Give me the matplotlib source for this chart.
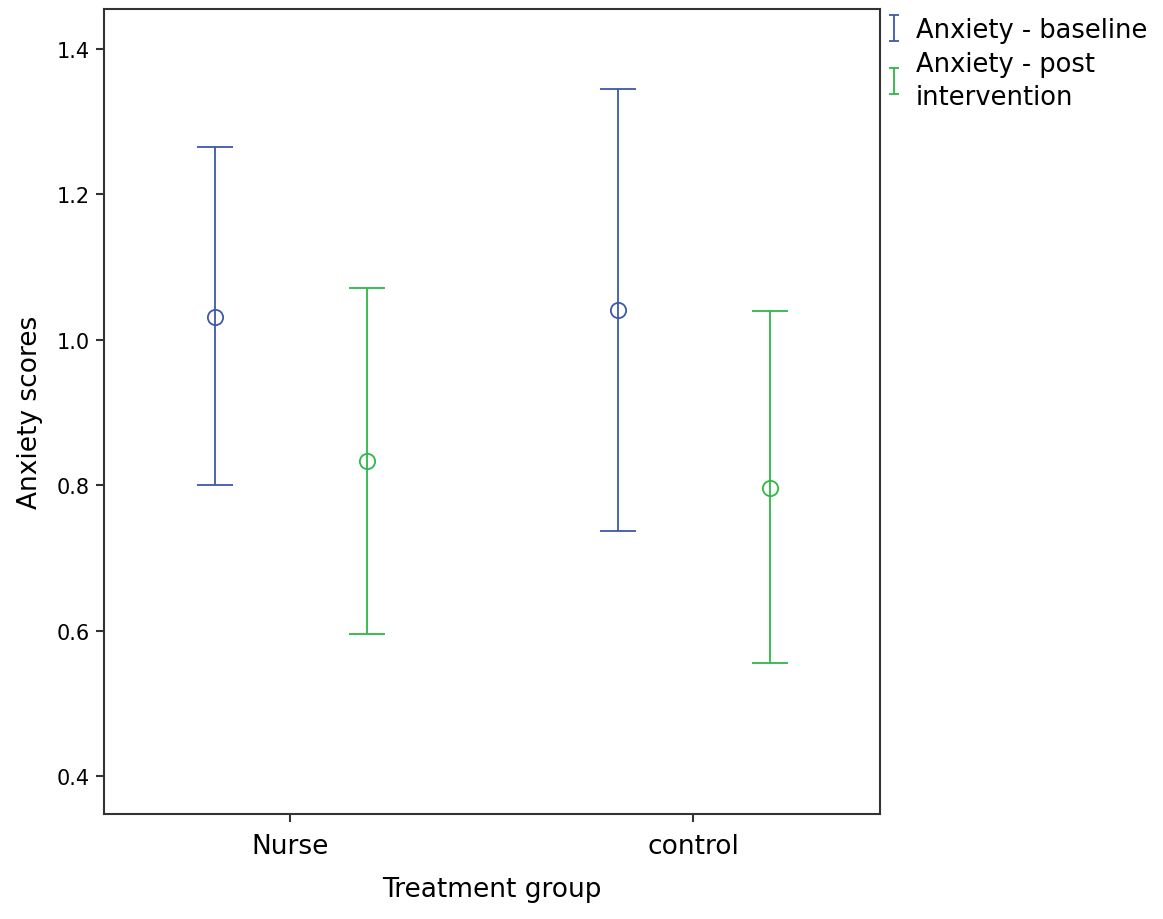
import numpy as np
import matplotlib
matplotlib.use("Agg")
import matplotlib.pyplot as plt

# Means and 95% CI limits
groups = ["Nurse", "control"]
series = ["Anxiety - baseline", "Anxiety - post\nintervention"]
means = [[1.032, 1.041], [0.834, 0.797]]
lower = [[0.800, 0.737], [0.595, 0.555]]
upper = [[1.265, 1.345], [1.071, 1.040]]
colors = ["#3E58AC", "#2EB848"]
offsets = [-0.185, 0.19]

fig = plt.figure(figsize=(11.63, 9.2), dpi=100)
ax = fig.add_axes([0.0894, 0.1141, 0.6673, 0.875])

x = np.arange(len(groups))
handles = []
for i in range(len(series)):
    m = np.array(means[i])
    err = [m - np.array(lower[i]), np.array(upper[i]) - m]
    ax.errorbar(x + offsets[i], m, yerr=err, fmt="none", ecolor=colors[i],
                elinewidth=1.3, capsize=13, capthick=1.3)
    ax.plot(x + offsets[i], m, "o", mfc="none", mec=colors[i], ms=11, mew=1.3)
    # small proxy for the legend key
    h = ax.errorbar([np.nan], [np.nan], yerr=[0.1], fmt="none", ecolor=colors[i],
                    elinewidth=1.3, capsize=3.5, capthick=1.3)
    handles.append(h)

ax.set_xlim(-0.4615, 1.464)
ax.set_ylim(0.348, 1.455)
ax.set_xticks(x)
ax.set_xticklabels(groups, fontsize=19)
ax.set_yticks([0.4, 0.6, 0.8, 1.0, 1.2, 1.4])
ax.set_yticklabels(["0.4", "0.6", "0.8", "1.0", "1.2", "1.4"], fontsize=15)
ax.tick_params(direction="out", length=6, width=1.5, color="#333333", pad=4)
ax.tick_params(axis="x", pad=8)
for s in ax.spines.values():
    s.set_linewidth(1.5)
    s.set_color("#333333")

ax.set_xlabel("Treatment group", fontsize=19, labelpad=12)
ax.set_ylabel("Anxiety scores", fontsize=19, labelpad=10)

leg = fig.legend(handles=handles, labels=series, loc="upper left",
                 bbox_to_anchor=(0.759, 0.986), frameon=False, fontsize=18.5,
                 handlelength=0.5, handletextpad=0.6, labelspacing=0.3,
                 borderaxespad=0, borderpad=0.2)
for t in leg.get_texts():
    t.set_linespacing(1.35)

fig.savefig("out.png", dpi=100)
